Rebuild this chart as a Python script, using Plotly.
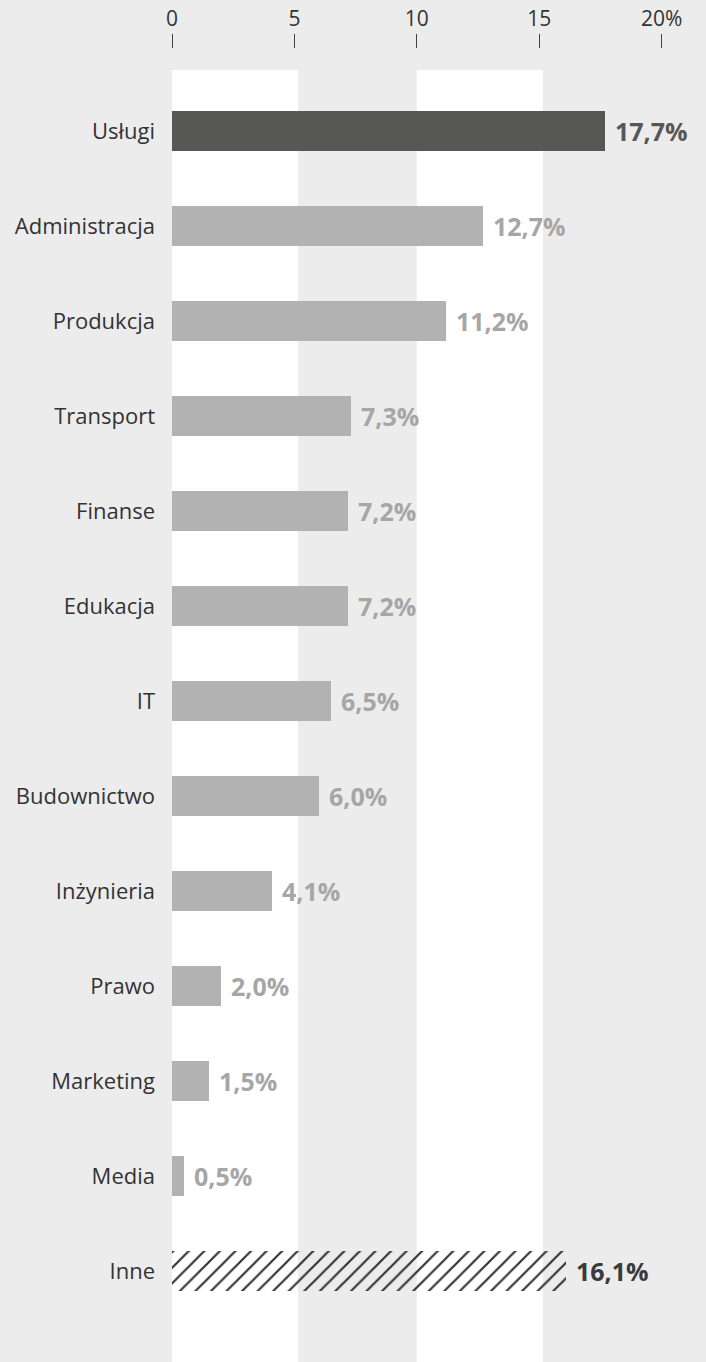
import plotly.graph_objects as go

# Sector shares (%), top to bottom
categories = ["Usługi", "Administracja", "Produkcja", "Transport", "Finanse",
              "Edukacja", "IT", "Budownictwo", "Inżynieria", "Prawo",
              "Marketing", "Media", "Inne"]
shares = [17.7, 12.7, 11.2, 7.3, 7.2, 7.2, 6.5, 6.0, 4.1, 2.0, 1.5, 0.5, 16.1]
value_labels = ["17,7%", "12,7%", "11,2%", "7,3%", "7,2%", "7,2%", "6,5%",
                "6,0%", "4,1%", "2,0%", "1,5%", "0,5%", "16,1%"]
tick_values = [0, 5, 10, 15, 20]
tick_labels = ["0", "5", "10", "15", "20%"]

BG = "#ececec"
HIGHLIGHT = "#575756"
REGULAR = "#b2b2b2"
HATCH = "#333333"
FONT = "Open Sans"

bar_colors = [HIGHLIGHT if c == "Usługi" else HATCH if c == "Inne" else REGULAR
              for c in categories]
bar_patterns = ["/" if c == "Inne" else "" for c in categories]
label_colors = [HIGHLIGHT if c == "Usługi" else "#3a3a3a" if c == "Inne" else "#a6a6a6"
                for c in categories]

W, H = 706, 1362
left, top = 172, 48
band_top = 70
px_per_unit = (661.6 - 172) / 20.0
row_px = 95.0
n = len(categories)

fig = go.Figure()
fig.add_trace(go.Bar(
    x=shares,
    y=categories,
    orientation="h",
    width=0.43,
    marker=dict(
        color=bar_colors,
        line=dict(width=0),
        pattern=dict(shape=bar_patterns, size=11, solidity=0.2, fillmode="replace"),
    ),
    hoverinfo="skip",
))

# White vertical bands behind the bars
for x0, x1 in [(0, 5.15), (10, 15.15)]:
    fig.add_shape(type="rect", xref="x", yref="y domain", x0=x0, x1=x1, y0=0, y1=1,
                  fillcolor="white", line=dict(width=0), layer="below")

for cat, val, lab, col in zip(categories, shares, value_labels, label_colors):
    fig.add_annotation(x=val, y=cat, text=f"<b>{lab}</b>", showarrow=False,
                       xanchor="left", xshift=8,
                       font=dict(family=FONT, size=25, color=col))

plot_h = H - top
y_dom_top = (H - band_top) / plot_h
first_off = (131 - band_top) / row_px
last_off = (H - 1271) / row_px

fig.update_layout(
    width=W, height=H,
    margin=dict(l=left, r=0, t=top, b=0, pad=0),
    paper_bgcolor=BG, plot_bgcolor=BG,
    showlegend=False,
    bargap=0,
    font=dict(family=FONT, color="#333333"),
    xaxis=dict(
        range=[0, (W - left) / px_per_unit],
        side="top", anchor="free", position=1,
        tickvals=tick_values, ticktext=tick_labels,
        ticks="outside", ticklen=14, tickwidth=1, tickcolor="#444444",
        tickfont=dict(family=FONT, size=21, color="#333333"),
        showgrid=False, zeroline=False, showline=False,
        fixedrange=True,
    ),
    yaxis=dict(
        domain=[0, y_dom_top],
        categoryorder="array", categoryarray=categories,
        range=[n - 1 + last_off, -first_off],
        ticks="", ticklabelstandoff=16,
        tickfont=dict(family=FONT, size=22, color="#333333"),
        showgrid=False, zeroline=False, showline=False,
        fixedrange=True,
    ),
)

fig.write_html("out.html")
